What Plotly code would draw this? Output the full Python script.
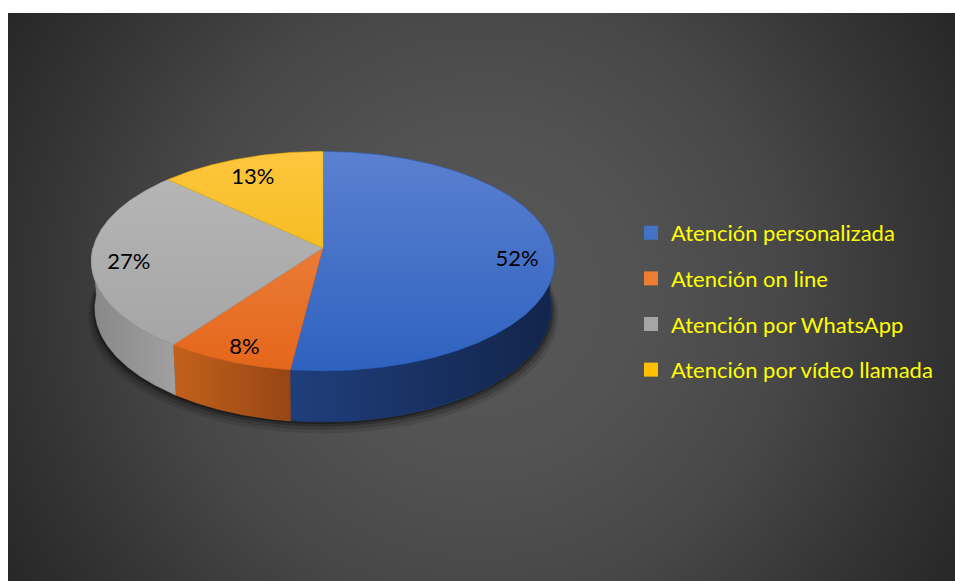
import numpy as np
import plotly.graph_objects as go

# ---- data -------------------------------------------------------------
categories = [
    "Atención personalizada",
    "Atención on line",
    "Atención por WhatsApp",
    "Atención por vídeo llamada",
]
values = [52, 8, 27, 13]
labels = ["52%", "8%", "27%", "13%"]

# ---- styling ----------------------------------------------------------
swatch = ["#4472C4", "#ED7D31", "#A5A5A5", "#FFC000"]
top_cols = [("#5b80d0", "#2e62bf"), ("#f08c4c", "#e4661a"),
            ("#b8b8b8", "#a3a3a3"), ("#fdc63e", "#ecb200")]
wall_cols = [("#1f3f7c", "#12244a"), ("#c3611b", "#964515"),
             ("#888888", "#a0a0a0"), ("#c99a00", "#a07a00")]
FONT = "Lato"

# ---- 3-D pie projection ------------------------------------------------
CX, CY = 323.0, 248.0        # screen position of the pie centre
S = 230.0                    # pixel scale of unit radius
SIN_E = 0.47                 # tilt of the pie towards the viewer
COS_E = np.sqrt(1 - SIN_E ** 2)
D = 7.4                      # perspective distance
T = 0.235                    # pie thickness (unit radius = 1)
LABEL_R = 0.84
LABEL_DY = 7.0               # small downward nudge of the data labels


def proj(theta_deg, h, r=1.0):
    th = np.radians(theta_deg)
    X = r * np.sin(th)
    Z = -r * np.cos(th)
    yv = h * COS_E - Z * SIN_E
    dv = h * SIN_E + Z * COS_E
    s = D / (D - dv)
    return CX + S * X * s, CY - S * yv * s


def arc(a0, a1, h, r=1.0):
    n = max(int(abs(a1 - a0) * 2), 2)
    return proj(np.linspace(a0, a1, n), h, r)


total = float(sum(values))
bounds = np.concatenate([[0.0], np.cumsum(values)]) / total * 360.0

fig = go.Figure()

# background panel with a radial glow
fig.add_trace(go.Scatter(
    x=[481 - 560, 481 + 560, 481 + 560, 481 - 560],
    y=[297 - 560, 297 - 560, 297 + 560, 297 + 560],
    fill="toself", mode="none", hoverinfo="skip", showlegend=False,
    fillgradient=dict(type="radial", colorscale=[
        [0.0, "#585858"], [0.3, "#525252"], [0.55, "#474747"],
        [0.8, "#343434"], [1.0, "#262626"]]),
))

# soft shadow under the pie
for shift, grow, alpha in [(7, 1.03, 0.10), (5, 1.02, 0.15),
                           (3, 1.01, 0.22), (1.5, 1.004, 0.3)]:
    bx, by = arc(0, 360, -T, grow)
    fig.add_trace(go.Scatter(
        x=bx, y=by + shift, fill="toself", mode="none",
        fillcolor=f"rgba(0,0,0,{alpha})", hoverinfo="skip", showlegend=False))

# side walls (front half only)
for i in range(len(values)):
    a0, a1 = max(bounds[i], 90.0), min(bounds[i + 1], 270.0)
    if a1 <= a0:
        continue
    tx, ty = arc(a0, a1, 0.0)
    bx, by = arc(a1, a0, -T)
    fig.add_trace(go.Scatter(
        x=np.concatenate([tx, bx]), y=np.concatenate([ty, by]),
        fill="toself", mode="lines",
        line=dict(width=0.6, color=wall_cols[i][0]),
        fillgradient=dict(type="horizontal",
                          colorscale=[[0, wall_cols[i][0]], [1, wall_cols[i][1]]]),
        hoverinfo="skip", showlegend=False))

# top faces
ax0, ay0 = proj(0.0, 0.0, 0.0)
top_y0 = float(proj(0.0, 0.0)[1])
top_y1 = float(proj(180.0, 0.0)[1])
for i in range(len(values)):
    tx, ty = arc(bounds[i], bounds[i + 1], 0.0)
    fig.add_trace(go.Scatter(
        x=np.concatenate([[ax0], tx, [ax0]]),
        y=np.concatenate([[ay0], ty, [ay0]]),
        fill="toself", mode="lines",
        line=dict(width=0.6, color=top_cols[i][1]),
        fillgradient=dict(type="vertical", start=top_y0, stop=top_y1,
                          colorscale=[[0, top_cols[i][0]], [1, top_cols[i][1]]]),
        hoverinfo="skip", showlegend=False))

# data labels
mids = (bounds[:-1] + bounds[1:]) / 2
lx, ly = proj(mids, 0.0, LABEL_R)
fig.add_trace(go.Scatter(
    x=lx, y=ly + LABEL_DY, mode="text", text=labels,
    textfont=dict(family=FONT, size=22, color="#000000"),
    hoverinfo="skip", showlegend=False))

# legend entries
for i, name in enumerate(categories):
    fig.add_trace(go.Scatter(
        x=[None], y=[None], mode="markers", name=name,
        legendgroup=f"g{i}",
        marker=dict(symbol="square", size=14, color=swatch[i])))

fig.update_layout(
    width=955, height=581,
    margin=dict(l=8, r=0, t=13, b=0),
    paper_bgcolor="#ffffff",
    plot_bgcolor="#333333",
    xaxis=dict(range=[8, 955], visible=False, fixedrange=True),
    yaxis=dict(range=[581, 13], visible=False, fixedrange=True),
    legend=dict(
        x=(631 - 8) / 947, xanchor="left",
        y=1 - (212 - 13) / 568, yanchor="top",
        bgcolor="rgba(0,0,0,0)",
        font=dict(family=FONT, size=22, color="#FFFF00"),
        tracegroupgap=14, itemclick=False, itemdoubleclick=False),
    showlegend=True,
)

fig.write_html("out.html")
